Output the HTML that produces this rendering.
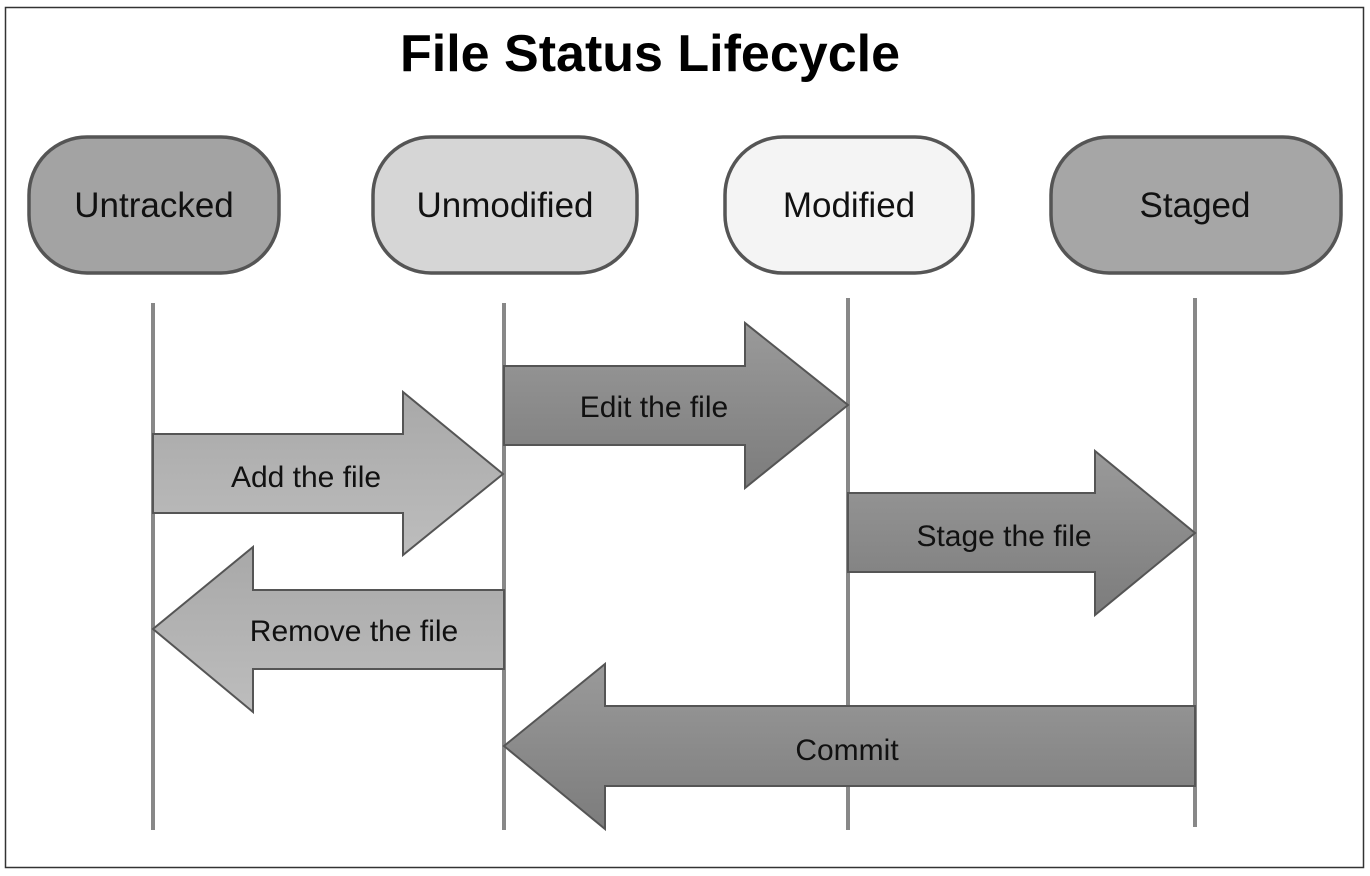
<!DOCTYPE html>
<html><head><meta charset="utf-8"><style>
html,body{margin:0;padding:0;background:#fff;}
svg{display:block;}
text{font-family:"Liberation Sans",sans-serif;}
</style></head><body>
<svg width="1370" height="876" viewBox="0 0 1370 876" xmlns="http://www.w3.org/2000/svg">
<defs>
<linearGradient id="gL" x1="0" y1="0" x2="0" y2="1"><stop offset="0" stop-color="#a8a8a8"/><stop offset="1" stop-color="#bdbdbd"/></linearGradient>
<linearGradient id="gD" x1="0" y1="0" x2="0" y2="1"><stop offset="0" stop-color="#9a9a9a"/><stop offset="1" stop-color="#7c7c7c"/></linearGradient>
</defs>
<rect x="5.5" y="7.5" width="1358" height="860" fill="#fff" stroke="#333" stroke-width="1.5"/>
<text x="650" y="71" text-anchor="middle" font-size="52" font-weight="bold" fill="#000">File Status Lifecycle</text>
<g stroke="#555" stroke-width="3.5">
<rect x="29" y="137" width="250" height="136" rx="58" fill="#a3a3a3"/>
<rect x="373" y="137" width="264" height="136" rx="58" fill="#d6d6d6"/>
<rect x="725" y="137" width="248" height="136" rx="58" fill="#f4f4f4"/>
<rect x="1051" y="137" width="290" height="136" rx="58" fill="#a6a6a6"/>
</g>
<g font-size="35" text-anchor="middle" fill="#111">
<text x="154" y="217">Untracked</text>
<text x="505" y="217">Unmodified</text>
<text x="849" y="217">Modified</text>
<text x="1195" y="217">Staged</text>
</g>
<g stroke="#888" stroke-width="4">
<line x1="153" y1="303" x2="153" y2="830"/>
<line x1="504" y1="303" x2="504" y2="830"/>
<line x1="848" y1="298" x2="848" y2="830"/>
<line x1="1195" y1="298" x2="1195" y2="827"/>
</g>
<g stroke="#555" stroke-width="2">
<polygon points="153,434 403,434 403,392 503,474 403,555 403,513 153,513" fill="url(#gL)"/>
<polygon points="504,366 745,366 745,323 848,405 745,488 745,445 504,445" fill="url(#gD)"/>
<polygon points="848,493 1095,493 1095,451 1195,533 1095,615 1095,572 848,572" fill="url(#gD)"/>
<polygon points="504,590 253,590 253,547 153,629 253,712 253,669 504,669" fill="url(#gL)"/>
<polygon points="1195,706 605,706 605,664 504,746 605,829 605,786 1195,786" fill="url(#gD)"/>
</g>
<g font-size="30" text-anchor="middle" fill="#111">
<text x="306" y="487">Add the file</text>
<text x="654" y="417">Edit the file</text>
<text x="1004" y="546">Stage the file</text>
<text x="354" y="641">Remove the file</text>
<text x="847" y="760">Commit</text>
</g>
</svg>
</body></html>
